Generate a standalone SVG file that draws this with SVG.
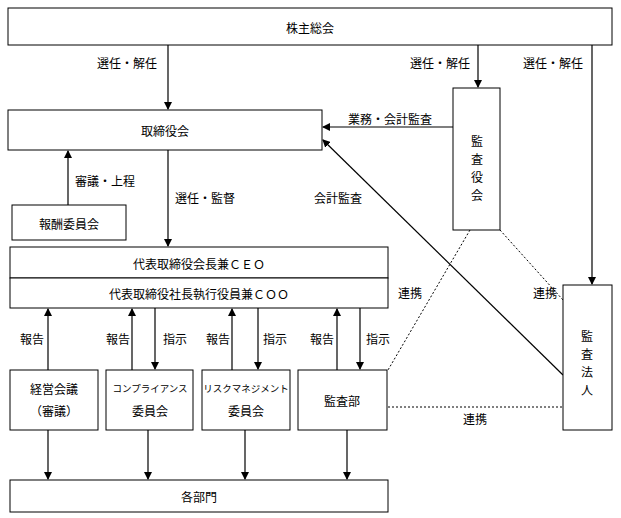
<svg xmlns="http://www.w3.org/2000/svg" width="621" height="518" viewBox="0 0 621 518">
<style>
.b{fill:#fff;stroke:#000;stroke-width:1}
text{font-family:"Noto Sans CJK JP","Noto Sans CJK SC",sans-serif;font-size:12px;fill:#000;text-anchor:middle;dominant-baseline:central}
.l{stroke:#000;stroke-width:1.2;fill:none}
.d{stroke:#000;stroke-width:1;fill:none;stroke-dasharray:2,2}
</style>
<defs><marker id="a" markerWidth="8" markerHeight="8" refX="7" refY="4" orient="auto" markerUnits="userSpaceOnUse"><path d="M0,0L8,4L0,8z" fill="#000"/></marker></defs>
<rect width="621" height="518" fill="#fff"/>
<g id="connectors">
<path class="l" d="M168,45V109" marker-end="url(#a)"/>
<path class="l" d="M478,45V87" marker-end="url(#a)"/>
<path class="l" d="M592,45V284" marker-end="url(#a)"/>
<path class="l" d="M453,127H323" marker-end="url(#a)"/>
<path class="l" d="M563,375L323,140" marker-end="url(#a)"/>
<path class="l" d="M68,205V151" marker-end="url(#a)"/>
<path class="l" d="M168,150V246" marker-end="url(#a)"/>
<path class="d" d="M470,230L388,370"/>
<path class="d" d="M500,230L563,300"/>
<path class="d" d="M388,407H563"/>
<path class="l" d="M48,370V309" marker-end="url(#a)"/>
<path class="l" d="M132,370V309" marker-end="url(#a)"/>
<path class="l" d="M232,370V309" marker-end="url(#a)"/>
<path class="l" d="M337,370V309" marker-end="url(#a)"/>
<path class="l" d="M155,308V369" marker-end="url(#a)"/>
<path class="l" d="M258,308V369" marker-end="url(#a)"/>
<path class="l" d="M360,308V369" marker-end="url(#a)"/>
<path class="l" d="M48,430V479" marker-end="url(#a)"/>
<path class="l" d="M148,430V479" marker-end="url(#a)"/>
<path class="l" d="M245,430V479" marker-end="url(#a)"/>
<path class="l" d="M347,430V479" marker-end="url(#a)"/>
<text x="127" y="62">選任・解任</text>
<text x="440" y="62">選任・解任</text>
<text x="553" y="62">選任・解任</text>
<text x="390" y="118">業務・会計監査</text>
<text x="338" y="197">会計監査</text>
<text x="105" y="180">審議・上程</text>
<text x="205" y="197">選任・監督</text>
<text x="410" y="292">連携</text>
<text x="545" y="292">連携</text>
<text x="475" y="418">連携</text>
<text x="32" y="338">報告</text><text x="118" y="338">報告</text><text x="175" y="338">指示</text>
<text x="218" y="338">報告</text><text x="275" y="338">指示</text>
<text x="322" y="338">報告</text><text x="378" y="338">指示</text>
</g>
<g id="n1"><rect class="b" x="8" y="8" width="604" height="37"/><text x="310" y="27">株主総会</text></g>
<g id="n2"><rect class="b" x="8" y="110" width="314" height="40"/><text x="165" y="130">取締役会</text></g>
<g id="n3"><rect class="b" x="12" y="205" width="114" height="35"/><text x="69" y="223">報酬委員会</text></g>
<g id="n4"><rect class="b" x="453" y="88" width="47" height="142"/><text x="477" y="140">監</text><text x="477" y="158">査</text><text x="477" y="176">役</text><text x="477" y="194">会</text></g>
<g id="n5"><rect class="b" x="10" y="247" width="378" height="31"/><text x="199" y="263">代表取締役会長兼ＣＥＯ</text></g>
<g id="n6"><rect class="b" x="10" y="278" width="378" height="30"/><text x="199" y="293">代表取締役社長執行役員兼ＣＯＯ</text></g>
<g id="n7"><rect class="b" x="563" y="285" width="49" height="145"/><text x="587" y="335">監</text><text x="587" y="353">査</text><text x="587" y="371">法</text><text x="587" y="389">人</text></g>
<g id="n8"><rect class="b" x="10" y="370" width="88" height="60"/><text x="54" y="388">経営会議</text><text x="54" y="410">（審議）</text></g>
<g id="n9"><rect class="b" x="106" y="370" width="87" height="60"/><text x="150" y="388" style="font-size:9.5px">コンプライアンス</text><text x="150" y="410">委員会</text></g>
<g id="n10"><rect class="b" x="202" y="370" width="88" height="60"/><text x="246" y="388" style="font-size:9.5px">リスクマネジメント</text><text x="246" y="410">委員会</text></g>
<g id="n11"><rect class="b" x="298" y="370" width="89" height="60"/><text x="342" y="400">監査部</text></g>
<g id="n12"><rect class="b" x="10" y="480" width="378" height="32"/><text x="199" y="496">各部門</text></g>
</svg>
